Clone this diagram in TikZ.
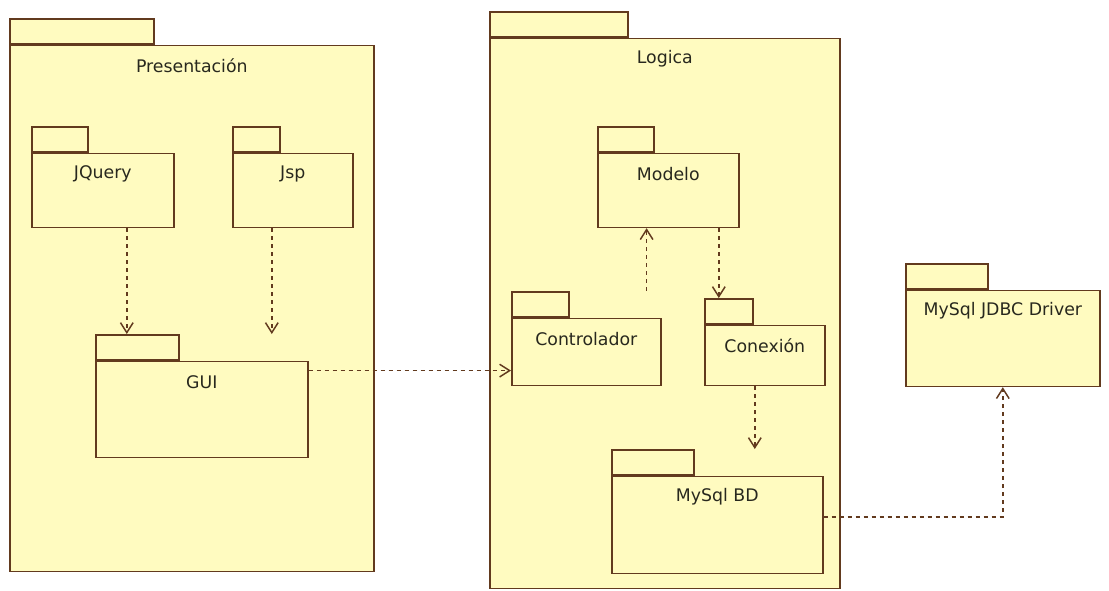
\documentclass[tikz,border=0pt]{standalone}
\usepackage{fontspec}
\setmainfont{DejaVu Sans}
\usepackage{tikz}
\usetikzlibrary{arrows.meta}

\definecolor{pkgfill}{RGB}{255,251,192}
\definecolor{pkgline}{RGB}{98,58,30}
\definecolor{pkgtext}{RGB}{40,40,30}

\tikzset{
  pkgtab/.style={draw=pkgline, fill=pkgfill, line width=1.2pt, inner sep=0pt,
    anchor=north west, minimum height=25*0.75pt},
  pkgbody/.style={draw=pkgline, fill=pkgfill, line width=1.2pt, inner sep=0pt,
    anchor=north west},
  pkgtitle/.style={text=pkgtext, inner sep=0.75pt,
    font=\fontsize{13}{15}\selectfont},
  dep/.style={draw=pkgline, line width=1.1pt, dash pattern={on 3pt off 3pt},
    -{Straight Barb[length=7.5pt,width=9.5pt]}},
}

% package: name, x, y, tab width, width, height, title
% (yscale=-1, so a positive yshift goes down)
\newcommand{\umlpkg}[7]{%
  \node[pkgtab, minimum width=#4*0.75pt] (#1T) at (#2,#3) {};
  \node[pkgbody, minimum width=#5*0.75pt, minimum height=#6*0.75pt] (#1B) at (#1T.south west) {};
  \node[pkgtitle] (#1L) at ([yshift=16pt]#1B.north) {#7};
}

\begin{document}
\begin{tikzpicture}[x=0.75pt,y=0.75pt,yscale=-1,xscale=1]
\useasboundingbox (0,0) rectangle (1109,591);

% outer packages
\umlpkg{pres}{9}{18}{144}{364}{526}{Presentación}
\umlpkg{log}{489}{11}{138}{350}{550}{Logica}

% inside Presentación
\umlpkg{jq}{31}{126}{56}{142}{74}{JQuery}
\umlpkg{jsp}{232}{126}{47}{120}{74}{Jsp}
\umlpkg{gui}{95}{334}{83}{212}{96}{GUI}

% inside Logica
\umlpkg{mod}{597}{126}{56}{141}{74}{Modelo}
\umlpkg{ctl}{511}{291}{57}{149}{67}{Controlador}
\umlpkg{con}{704}{298}{48}{120}{60}{Conexión}
\umlpkg{bd}{611}{449}{82}{211}{97}{MySql BD}

% driver
\umlpkg{jdbc}{905}{263}{82}{194}{96}{MySql JDBC Driver}

% dependency ends
\coordinate (ctlUp) at ([xshift=-11.25pt]ctlB.north east);
\coordinate (conIn) at ([xshift=-7.5pt]conT.north);
\coordinate (conOut) at ([xshift=-7.5pt]conB.south);
\coordinate (jqOut) at ([xshift=18pt]jqB.south);
\coordinate (jspOut) at ([xshift=-15.75pt]jspB.south);
\coordinate (guiOut) at ([yshift=7.5pt]guiB.north east);

% dependencies
\draw[dep] (jqOut) -- (jqOut |- guiT.north);
\draw[dep] (jspOut) -- (jspOut |- guiT.north);
\draw[dep] (guiOut) -- (guiOut -| ctlB.west);
\draw[dep] (ctlUp |- ctlT.north) -- (ctlUp |- modB.south);
\draw[dep] (conIn |- modB.south) -- (conIn);
\draw[dep] (conOut) -- (conOut |- bdT.north);
\draw[dep] ([yshift=-6pt]bdB.east) -| (jdbcB.south);
\end{tikzpicture}
\end{document}
